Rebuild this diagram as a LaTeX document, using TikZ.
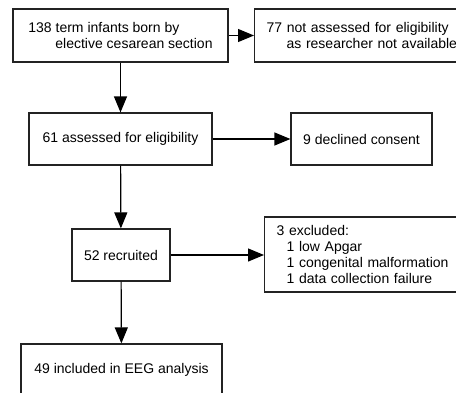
\documentclass[tikz,border=0pt]{standalone}
\usepackage{fontspec}
\setmainfont{Liberation Sans}
\usepackage{tikz}
\usetikzlibrary{arrows.meta}
\definecolor{boxline}{RGB}{35, 35, 35}

\begin{document}
\begin{tikzpicture}[x=1pt, y=-1pt,
            flowbox/.style={draw=boxline, line width=1.2pt, minimum height=52pt, inner sep=0pt,
                            font=\fontsize{14}{16}\selectfont},
            leftbox/.style={flowbox, inner xsep=12pt, align=left, anchor=west},
            arr/.style={-{Triangle[length=16pt, width=13pt]}, line width=1.2pt, draw=black}]
            \useasboundingbox (0,0) rectangle (456,392);
            \node[flowbox, minimum width=215pt, minimum height=53pt, align=left] (born)      at (120.5, 35.5)
                 {138 term infants born by\\\hspace*{27pt}elective cesarean section};
            \node[leftbox, minimum height=53pt, text width=191pt]                (notassess) at (254.0, 35.5)
                 {77 not assessed for eligibility\\\hspace*{20pt}as researcher not available};
            \node[flowbox, minimum width=183pt]                                  (assessed)  at (120.5,139.0)
                 {61 assessed for eligibility};
            \node[flowbox, minimum width=141pt]                                  (declined)  at (361.5,139.0)
                 {9 declined consent};
            \node[flowbox, minimum width=98pt]                                   (recruited) at (121.0,255.0)
                 {52 recruited};
            \node[leftbox, minimum height=75pt, text width=181pt]                (excluded)  at (264.0,254.5)
                 {3 excluded:\\\hspace*{10pt}1 low Apgar\\\hspace*{10pt}1 congenital malformation\\\hspace*{10pt}1 data collection failure};
            \node[flowbox, minimum width=201pt]                                  (included)  at (121.5,370.0)
                 {49 included in EEG analysis};
            \draw[arr] (born)      -- (notassess);
            \draw[arr] (born)      -- (assessed);
            \draw[arr] (assessed)  -- (declined);
            \draw[arr] (assessed)  -- (recruited);
            \draw[arr] (recruited) -- (recruited -| excluded.west);
            \draw[arr] (recruited) -- (included);
            \end{tikzpicture}
\end{document}
